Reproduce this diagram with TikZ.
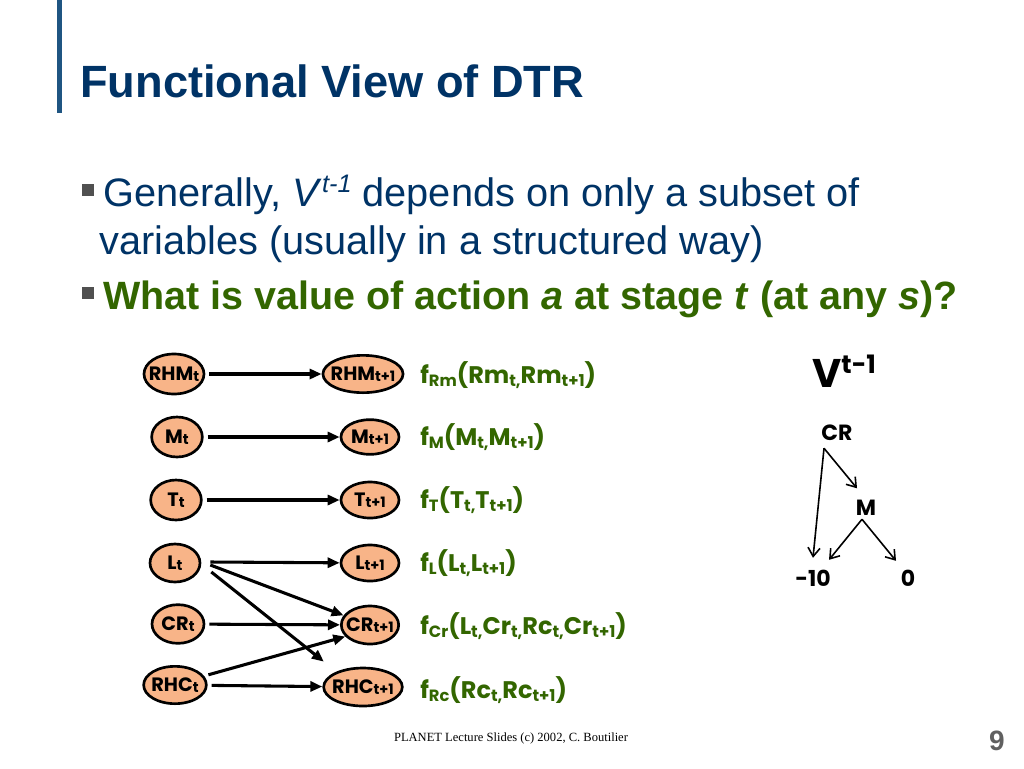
\documentclass[tikz,border=0pt]{standalone}
\usepackage{fontspec}
\usepackage{graphicx}
\setmainfont{Liberation Sans}
\newfontfamily\comic{Poppins}
\newfontfamily\footfont{Liberation Serif}
\usetikzlibrary{shapes.geometric,arrows.meta,calc}
\definecolor{navy}{RGB}{0,51,102}
\definecolor{barblue}{RGB}{31,85,130}
\definecolor{ogreen}{RGB}{51,102,0}
\definecolor{peach}{RGB}{248,180,136}
\definecolor{bulletgray}{RGB}{80,80,80}
\definecolor{pagegray}{RGB}{96,96,96}
\newcommand\lo[1]{\raisebox{-0.2ex}{\scalebox{0.68}{#1}}}
\newcommand\nlo[1]{\raisebox{-0.1ex}{\scalebox{0.74}{#1}}}
\begin{document}
\begin{tikzpicture}[x=0.75pt,y=-0.75pt,
  var/.style={ellipse,draw=black,line width=2pt,fill=peach,inner sep=-3pt,
    font=\comic\bfseries\fontsize{14.5}{14.5}\selectfont},
  arr/.style={line width=2.3pt,-{Triangle[length=9pt,width=7.5pt]}},
  tarr/.style={line width=1.2pt,-{Straight Barb[length=6.5pt,width=9pt]}},
  flabel/.style={anchor=west,inner sep=0pt,text=ogreen,
    font=\comic\bfseries\fontsize{18}{18}\selectfont},
  tlabel/.style={anchor=base,inner sep=0pt,
    font=\comic\bfseries\fontsize{16.5}{16.5}\selectfont},
  body/.style={anchor=base west,inner sep=0pt,text=navy,
    font=\fontsize{29.8}{29.8}\selectfont},
  bulletbox/.style={fill=bulletgray}]
\useasboundingbox (0,0) rectangle (1024,768);
\fill[white] (0,0) rectangle (1024,768);

% title bar and title
\fill[barblue] (57,0) rectangle (62,113);
\node[anchor=base west,inner sep=0pt,text=navy,
  font=\bfseries\fontsize{33.9}{33.9}\selectfont] (title) at (80,97) {Functional View of DTR};

% bullets
\fill[bulletbox] (82,184) rectangle (94,196);
\node[body] (line1) at (103,206) {Generally, \textit{V}\raisebox{10.5pt}{\fontsize{19}{19}\selectfont\textit{t-1}} depends on only a subset of};
\node[body] (line2) at (99,254) {variables (usually in a structured way)};
\fill[bulletbox] (82,287) rectangle (94,299);
\node[body,text=ogreen,font=\bfseries\fontsize{29.6}{29.6}\selectfont] (line3) at (103,309)
  {What is value of action \textit{a} at stage \textit{t} (at any \textit{s})?};

% left column
\node[var,minimum width=45pt,minimum height=30pt] (RHM0) at (174,374) {RHM\nlo{t}};
\node[var,minimum width=38pt,minimum height=30pt] (M0) at (177,437) {M\nlo{t}};
\node[var,minimum width=38pt,minimum height=30pt] (T0) at (176,500) {T\nlo{t}};
\node[var,minimum width=37.5pt,minimum height=28.5pt] (L0) at (175,563) {L\nlo{t}};
\node[var,minimum width=39pt,minimum height=29pt] (CR0) at (178,624) {CR\nlo{t}};
\node[var,minimum width=47pt,minimum height=28pt] (RHC0) at (175,685) {RHC\nlo{t}};

% right column
\node[var,minimum width=59pt,minimum height=28pt] (RHM1) at (363,374) {RHM\nlo{t+1}};
\node[var,minimum width=43.5pt,minimum height=26pt] (M1) at (370,437) {M\nlo{t+1}};
\node[var,minimum width=43.5pt,minimum height=27pt] (T1) at (370,500) {T\nlo{t+1}};
\node[var,minimum width=43.5pt,minimum height=27pt] (L1) at (370,563) {L\nlo{t+1}};
\node[var,minimum width=43pt,minimum height=28.5pt] (CR1) at (370,625) {CR\nlo{t+1}};
\node[var,minimum width=59pt,minimum height=28.5pt] (RHC1) at (363,687) {RHC\nlo{t+1}};

% connectors
\draw[arr,shorten <=3pt] (RHM0) -- (RHM1);
\draw[arr,shorten <=3pt] (M0) -- (M1);
\draw[arr,shorten <=3pt] (T0) -- (T1);
\draw[arr] ($(L0.east)+(9,-1)$) -- (L1);
\draw[arr] ($(L0.east)+(9,2)$) -- (CR1.160);
\draw[arr,shorten >=12pt] ($(L0.east)+(10,9)$) -- (RHC1.150);
\draw[arr,shorten <=3pt] (CR0) -- (CR1);
\draw[arr] ([xshift=4pt]RHC0.20) -- (CR1.205);
\draw[arr,shorten <=3pt] (RHC0) -- (RHC1);

% function labels
\node[flabel] (fRm) at (420,375) {f\lo{Rm}(Rm\lo{t,}Rm\lo{t+1})};
\node[flabel] (fM) at (420,437) {f\lo{M}(M\lo{t,}M\lo{t+1})};
\node[flabel] (fT) at (420,500) {f\lo{T}(T\lo{t,}T\lo{t+1})};
\node[flabel] (fL) at (420,563) {f\lo{L}(L\lo{t,}L\lo{t+1})};
\node[flabel] (fCr) at (420,626) {f\lo{Cr}(L\lo{t,}Cr\lo{t,}Rc\lo{t,}Cr\lo{t+1})};
\node[flabel] (fRc) at (420,690) {f\lo{Rc}(Rc\lo{t,}Rc\lo{t+1})};

% value tree
\node[anchor=base west,inner sep=0pt,font=\comic\bfseries\fontsize{30}{30}\selectfont] (vt) at (812,387)
  {V\raisebox{10.5pt}{\fontsize{19}{19}\selectfont t-1}};
\node[tlabel] (cr) at (837,440) {CR};
\node[tlabel] (m) at (866,515) {M};
\node[tlabel] (neg) at (813,586) {-10};
\node[tlabel] (zero) at (908,586) {0};
\draw[tarr] ($(cr.center)+(-13,16)$) -- ($(neg.center)+(0,-20)$);
\draw[tarr] ($(cr.center)+(-13,16)$) -- ($(m.center)+(-9,-19)$);
\draw[tarr] ($(m.center)+(-4,12)$) -- ($(neg.center)+(16,-18)$);
\draw[tarr] ($(m.center)+(-4,12)$) -- ($(zero.center)+(-12,-17)$);

% footer
\node[font=\footfont\fontsize{9.4}{9.4}\selectfont] (foot) at (511,738) {PLANET Lecture Slides (c) 2002, C. Boutilier};
\node[text=pagegray,font=\bfseries\fontsize{21}{21}\selectfont] (pg) at (997,741) {9};
\end{tikzpicture}
\end{document}
